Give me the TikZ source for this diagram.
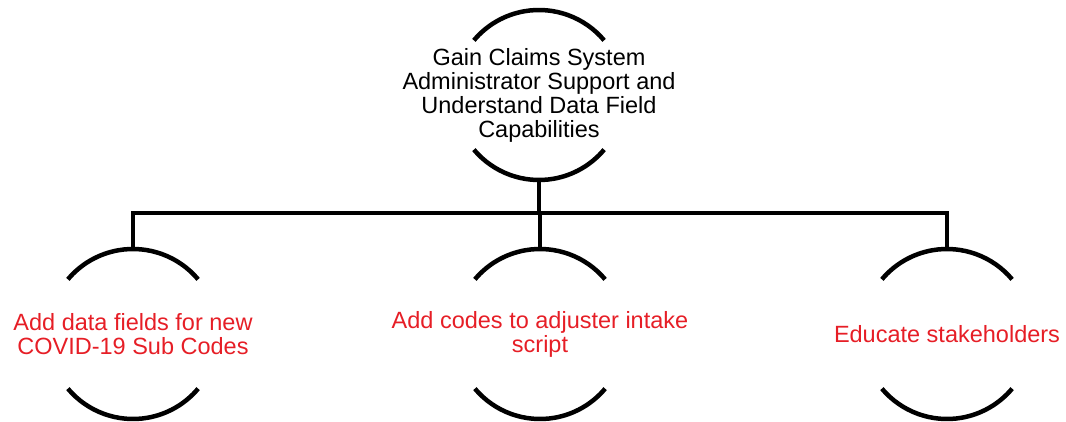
\documentclass[tikz,border=0pt]{standalone}
\usepackage{fontspec}
\setmainfont{Liberation Sans}
\definecolor{txtred}{RGB}{230,30,38}
\begin{document}
\begin{tikzpicture}[x=1pt,y=1pt,
  ring/.style={circle,minimum size=170pt,inner sep=0pt,outer sep=0pt},
  lbl/.style={align=center,inner sep=0pt,font=\fontsize{23.5}{24}\selectfont},
  arcline/.style={line width=4.5pt,black},
  conn/.style={line width=4.5pt,black}]
\useasboundingbox (0,0) rectangle (1066,421);
% circles (invisible nodes)
\node[ring] (top) at (539,326) {};
\node[ring] (c1) at (133,87) {};
\node[ring] (c2) at (540,87) {};
\node[ring] (c3) at (947,87) {};
% arcs
\foreach \n in {top,c1,c2,c3}{
  \draw[arcline] (\n.40) arc[start angle=40,end angle=140,radius=85pt];
  \draw[arcline] (\n.220) arc[start angle=220,end angle=320,radius=85pt];
}
% labels
\node[lbl] (ttop) at (top.center) {Gain Claims System\\Administrator Support and\\Understand Data Field\\Capabilities};
\node[lbl,text=txtred] (t1) at (c1.center) {Add data fields for new\\COVID-19 Sub Codes};
\node[lbl,text=txtred] (t2) at (c2.center) {Add codes to adjuster intake\\script};
\node[lbl,text=txtred] (t3) at (c3.center) {Educate stakeholders};
% connectors
\coordinate (bar) at (539,208);
\draw[conn] (top.south) -- (bar);
\draw[conn,line join=miter] (c1.north) |- (bar) -| (c3.north);
\draw[conn] (bar -| c2.north) -- (c2.north);
\end{tikzpicture}
\end{document}
